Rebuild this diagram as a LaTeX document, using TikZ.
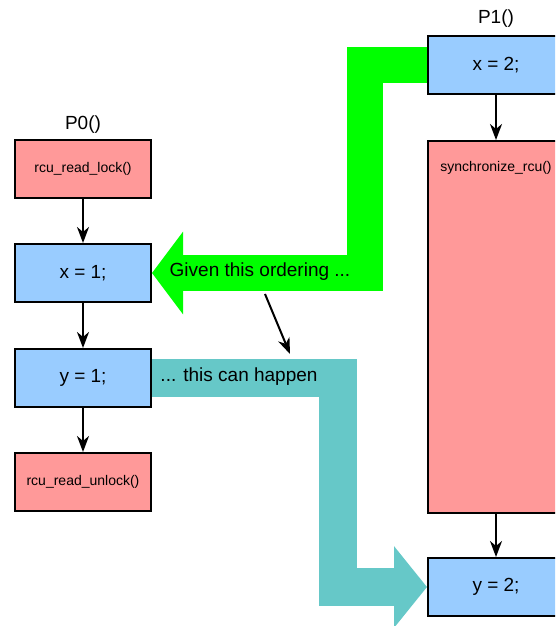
\documentclass[tikz,border=0pt]{standalone}
\usepackage{fontspec}
\setmainfont{Liberation Sans}
\usetikzlibrary{positioning, arrows.meta}
\definecolor{Dark}{HTML}{000000}
\definecolor{Lock}{HTML}{FF9999}
\definecolor{Store}{HTML}{99CCFF}
\definecolor{Order}{HTML}{00FF00}
\definecolor{Happen}{HTML}{66C8C8}
\tikzset{
    storenode/.style={rectangle, draw=Dark, line width=2pt, fill=Store, minimum width=136pt, minimum height=58pt, inner sep=0pt, font=\fontsize{19}{22}\selectfont},
    locknode/.style={storenode, fill=Lock, font=\fontsize{14}{16}\selectfont},
    bigtext/.style={font=\fontsize{19}{22}\selectfont},
    smalltext/.style={font=\fontsize{14}{16}\selectfont},
    arrow/.style={-{Stealth[length=16pt, width=12pt, inset=5pt]}, line width=2pt, color=Dark},
    band/.style={line join=miter, line cap=butt},
}
\begin{document}
\begin{tikzpicture}[x=1pt, y=1pt]
    \useasboundingbox (0,0) rectangle (555,626);
    \clip (0,0) rectangle (555,626);

    % P0
    \node[locknode] (lock) at (83,457) {rcu\_read\_lock()};
    \node[storenode, below=44pt of lock] (x1) {x = 1;};
    \node[storenode, below=45pt of x1] (y1) {y = 1;};
    \node[locknode, below=44pt of y1] (unlock) {rcu\_read\_unlock()};
    \node[bigtext, above=2pt of lock] (p0) {P0()};

    % P1
    \node[storenode] (x2) at (496,561) {x = 2;};
    \node[locknode, minimum height=372pt, below=45pt of x2] (sync) {};
    \node[smalltext, below=18pt] (synctext) at (sync.north) {synchronize\_rcu()};
    \node[storenode, below=43pt of sync] (y2) {y = 2;};
    \node[bigtext, above=4pt of x2] (p1) {P1()};

    % Ordine nei processi
    \draw[arrow] (lock) -- (x1);
    \draw[arrow] (x1) -- (y1);
    \draw[arrow] (y1) -- (unlock);
    \draw[arrow] (x2) -- (sync);
    \draw[arrow] (sync) -- (y2);

    % Frecce larghe
    \draw[band, Order, line width=36pt, -{Triangle[length=31pt, width=81pt]}]
        (x2.west) -- ++(-62,0) |- (x1.east);
    \draw[band, Happen, line width=38pt, -{Triangle[length=33pt, width=80pt]}]
        (y1.east) -- ++(186,0) |- (y2.west);

    % Etichette
    \node[bigtext] (given) at (260,354) {Given this ordering ...};
    \node[bigtext] (happen) at (239,249) {... this can happen};
    \coordinate (cause) at (265,332);
    \coordinate (effect) at (290,272);
    \draw[arrow] (cause) -- (effect);
\end{tikzpicture}
\end{document}
